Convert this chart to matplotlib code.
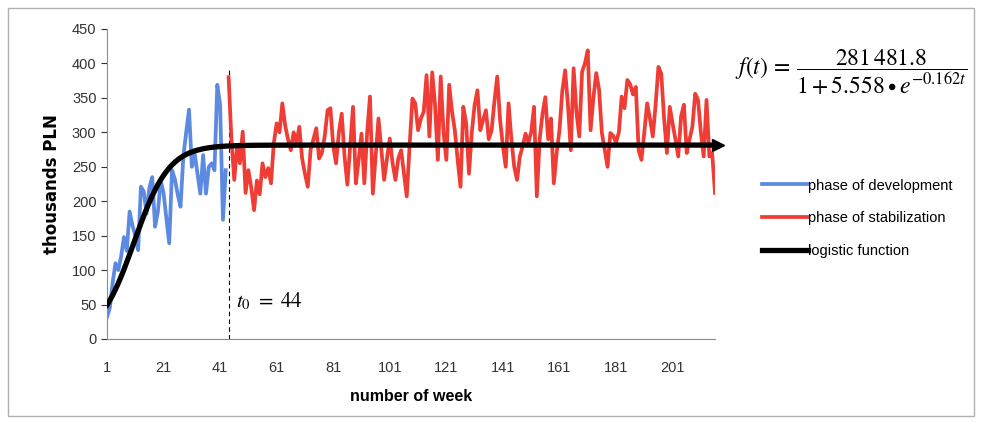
import numpy as np
import matplotlib
matplotlib.use('Agg')
from matplotlib import pyplot as plt
from matplotlib.patches import Rectangle

plt.rcParams['font.family'] = ['Liberation Sans', 'DejaVu Sans']
plt.rcParams['mathtext.fontset'] = 'stix'

# weekly sales, thousands PLN
dev_weeks = list(range(1, 44))
dev_values = [32, 45, 82, 110, 100, 120, 148, 128, 185, 165,
              150, 129, 221, 214, 182, 220, 235, 163, 185, 230,
              212, 175, 139, 245, 232, 210, 192, 265, 300, 333,
              250, 269, 240, 211, 267, 211, 250, 255, 245, 369,
              340, 173, 245]

# weeks 44 .. 216
stab_values = [380, 290, 231, 280, 255, 301, 212, 245, 220, 187,
               230, 210, 255, 235, 248, 226, 285, 313, 300, 342,
               310, 290, 274, 300, 285, 308, 262, 240, 221, 275,
               290, 306, 262, 270, 295, 332, 335, 280, 255, 300,
               327, 265, 224, 280, 337, 226, 260, 298, 226, 300,
               352, 211, 265, 320, 275, 231, 262, 291, 255, 231,
               262, 274, 240, 207, 280, 349, 342, 303, 320, 330,
               383, 294, 387, 340, 260, 381, 300, 260, 369, 330,
               303, 260, 221, 337, 313, 240, 300, 340, 361, 303,
               318, 332, 290, 303, 345, 381, 318, 280, 250, 342,
               290, 250, 231, 265, 280, 298, 285, 300, 337, 207,
               290, 327, 351, 290, 320, 226, 270, 303, 360, 390,
               340, 274, 393, 330, 294, 388, 400, 419, 303, 350,
               386, 362, 299, 275, 250, 299, 295, 285, 300, 352,
               335, 376, 370, 355, 366, 274, 260, 300, 342, 320,
               294, 340, 395, 385, 320, 270, 337, 313, 290, 265,
               323, 340, 270, 290, 308, 356, 347, 300, 265, 347,
               265, 270, 212]
stab_weeks = list(range(44, 44 + len(stab_values)))

# logistic trend parameters
K = 281.4818
a = 5.558
b = 0.162
t0 = 44

t = np.arange(1, stab_weeks[-1] + 1)
logistic = K / (1 + a * np.exp(-b * t))

fig = plt.figure(figsize=(9.83, 4.22), dpi=100)
ax = fig.add_axes([107/983, 1-339/422, 608/983, 310/422])

ax.plot(dev_weeks, dev_values, color='#5b8ae0', lw=2.7, label='phase of development',
        zorder=2, solid_joinstyle='round')
ax.plot(stab_weeks, stab_values, color='#ef3d35', lw=2.7, label='phase of stabilization',
        zorder=2, solid_joinstyle='round')
ax.plot(t, logistic, color='black', lw=3.8, label='logistic function', zorder=3)
ax.plot([t[-1] + 1], [logistic[-1]], marker='>', color='black', ms=8, zorder=4, clip_on=False)

ax.plot([t0, t0], [0, 393], color='black', lw=0.8, ls=(0, (4, 3)), zorder=1)
ax.text(t0 + 2.5, 55, r'$t_0\ =\ 44$', fontsize=15, ha='left', va='center')

ax.set_xlim(1, t[-1])
ax.set_ylim(0, 450)
ax.set_xticks(range(1, 202, 20))
ax.set_yticks(range(0, 451, 50))
ax.tick_params(axis='both', labelsize=10.5, colors='#333333', length=4, width=0.8)
ax.tick_params(axis='x', length=0, pad=16)
for s in ['top', 'right']:
    ax.spines[s].set_visible(False)
for s in ['left', 'bottom']:
    ax.spines[s].set_color('#8c8c8c')
ax.set_xlabel('number of week', fontsize=11.5, fontweight='bold', labelpad=10)
ax.set_ylabel('thousands PLN', fontsize=12, fontweight='bold', labelpad=8,
              family=['DejaVu Sans'])

ax.legend(loc='upper left', bbox_to_anchor=(1.055, 0.56), frameon=False,
          fontsize=10.5, handlelength=3.2, handletextpad=0.0, labelspacing=1.3)

# formula with arrow to the end of the trend line
fig.text(735/983, 1-72/422, r'$f(t)\,=\,\dfrac{281\,481.8}{1+5.558\bullet e^{-0.162t}}$',
         fontsize=17, ha='left', va='center')
ax.annotate('', xy=(t[-1] + 2, logistic[-1] + 4), xycoords='data',
            xytext=(762/983, 1-90/422), textcoords='figure fraction',
            arrowprops=dict(arrowstyle='-', color='#555555', lw=0.8))

fig.patches.append(Rectangle((8/983, 6/422), 966/983, 408/422, transform=fig.transFigure,
                             fill=False, edgecolor='#b0b0b0', lw=1))

plt.savefig('out.png', dpi=100)
